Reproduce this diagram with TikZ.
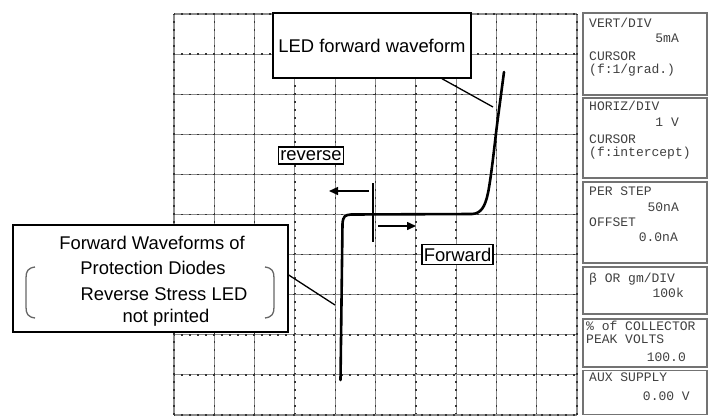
\documentclass[tikz,border=0pt]{standalone}
\usepackage{fontspec}
\setmainfont{Liberation Sans}
\newfontfamily\panelfont{Liberation Mono}
\usetikzlibrary{arrows.meta}

\begin{document}
\begin{tikzpicture}
	[
		x=1pt, y=-1pt,
		>={Triangle[length=9pt,width=8pt]},
		gridline/.style={draw=black!45, line width=1.1pt},
		gridtick/.style={draw=black!80, line width=1.4pt, dash pattern=on 1.6pt off 6.4pt, dash phase=0.8pt},
		trace/.style={draw=black, line width=2.6pt, line join=round, line cap=round},
		callout/.style={draw, line width=1.4pt, fill=white, inner sep=0pt, font=\fontsize{18.4}{20}\selectfont},
		tag/.style={draw, line width=1.4pt, fill=white, inner xsep=1.6pt, inner ysep=3.5pt, font=\fontsize{18.4}{20}\selectfont},
		caption/.style={inner sep=0pt, font=\fontsize{18.4}{20}\selectfont},
		leader/.style={draw, line width=1.3pt},
		paren/.style={draw=black!60, line width=1.3pt},
		readout/.style={draw=black!55, line width=1.5pt, fill=white, minimum width=124pt, inner sep=0pt},
		rdtext/.style={inner sep=0pt, text height=8.5pt, text depth=1.5pt, text=black!75, font=\panelfont\fontsize{13}{14}\selectfont}
	]

	\def\gx{40.3}
	\def\gy{40.1}

	\useasboundingbox (0,0) rectangle (715,416);

	% graticule
	\foreach \i in {0,...,10}
	{
		\path[gridline] (174+\i*\gx,14) -- (174+\i*\gx,415);
		\path[gridline] (174,14+\i*\gy) -- (577,14+\i*\gy);
		\path[gridtick] (174+\i*\gx,14) -- (174+\i*\gx,415);
		\path[gridtick] (174,14+\i*\gy) -- (577,14+\i*\gy);
	}

	% measured curve
	\path[trace] (340.5,380) -- (342.5,224) .. controls (343,216) and (345,215) .. (351,214.5)
		-- (472,214) .. controls (481,213.5) and (485,207) .. (488,193)
		.. controls (491,178) and (494,150) .. (497,125) -- (504,72);

	\coordinate (ledtip) at (493,107);
	\coordinate (prottip) at (335,305);

	% polarity marker
	\coordinate (marktop) at (373,183);
	\coordinate (markbot) at (373,242);
	\coordinate (revtail) at (369,191);
	\coordinate (revhead) at (329,191);
	\coordinate (fwdtail) at (378,226);
	\coordinate (fwdhead) at (416,226);

	\path[draw, line width=1.3pt] (marktop) -- (markbot);
	\path[->, draw, line width=1.5pt] (revtail) -- (revhead);
	\path[->, draw, line width=1.5pt] (fwdtail) -- (fwdhead);

	\node[tag] (reverse) at (311,155.5) {reverse};
	\node[tag] (forward) at (457.5,254.5) {Forward};

	% callouts
	\node[callout, minimum width=198pt, minimum height=65pt] (ledbox) at (372,45.5) {LED forward waveform};
	\path[leader] ([xshift=70pt]ledbox.south) -- (ledtip);

	\node[callout, minimum width=275pt, minimum height=107pt] (protbox) at (150.5,278.5) {};
	\path[leader] ([yshift=3.5pt]protbox.east) -- (prottip);

	\node[caption] (prot1) at (152,243) {Forward Waveforms of};
	\node[caption] (prot2) at (153,268) {Protection Diodes};
	\node[caption] (prot3) at (164,294) {Reverse Stress LED};
	\node[caption] (prot4) at (166,318) {not printed};

	\path[paren] (35,267) .. controls (28,268) and (26,271) .. (26,278) -- (26,307)
		.. controls (26,314) and (28,317) .. (35,318);
	\path[paren] (265,267) .. controls (272,268) and (274,271) .. (274,278) -- (274,307)
		.. controls (274,314) and (272,317) .. (265,318);

	% settings panel
	\node[readout, minimum height=82pt] (vert) at (645,54) {};
	\node[readout, minimum height=80pt] (horiz) at (645,138) {};
	\node[readout, minimum height=81pt] (step) at (645,222.5) {};
	\node[readout, minimum height=47pt] (beta) at (645,290.5) {};
	\node[readout, minimum height=48pt] (peak) at (645,343) {};
	\node[readout, minimum height=44pt] (aux) at (645,392.5) {};

	\node[rdtext, anchor=west] (vert1) at (589,24) {VERT/DIV};
	\node[rdtext, anchor=east] (vert2) at (679,39) {5mA};
	\node[rdtext, anchor=west] (vert3) at (589,57) {CURSOR};
	\node[rdtext, anchor=west] (vert4) at (589,70) {(f:1/grad.)};

	\node[rdtext, anchor=west] (horiz1) at (589,107) {HORIZ/DIV};
	\node[rdtext, anchor=east] (horiz2) at (679,123) {1 V};
	\node[rdtext, anchor=west] (horiz3) at (589,140) {CURSOR};
	\node[rdtext, anchor=west] (horiz4) at (589,153) {(f:intercept)};

	\node[rdtext, anchor=west] (step1) at (589,192) {PER STEP};
	\node[rdtext, anchor=east] (step2) at (679,208) {50nA};
	\node[rdtext, anchor=west] (step3) at (589,223) {OFFSET};
	\node[rdtext, anchor=east] (step4) at (678,238) {0.0nA};

	\node[rdtext, anchor=west] (beta1) at (589,279) {β OR gm/DIV};
	\node[rdtext, anchor=east] (beta2) at (684,294) {100k};

	\node[rdtext, anchor=west] (peak1) at (586,327) {\% of COLLECTOR};
	\node[rdtext, anchor=west] (peak2) at (586,340) {PEAK VOLTS};
	\node[rdtext, anchor=east] (peak3) at (686,358) {100.0};

	\node[rdtext, anchor=west] (aux1) at (589,378) {AUX SUPPLY};
	\node[rdtext, anchor=east] (aux2) at (690,397) {0.00 V};

\end{tikzpicture}
\end{document}
